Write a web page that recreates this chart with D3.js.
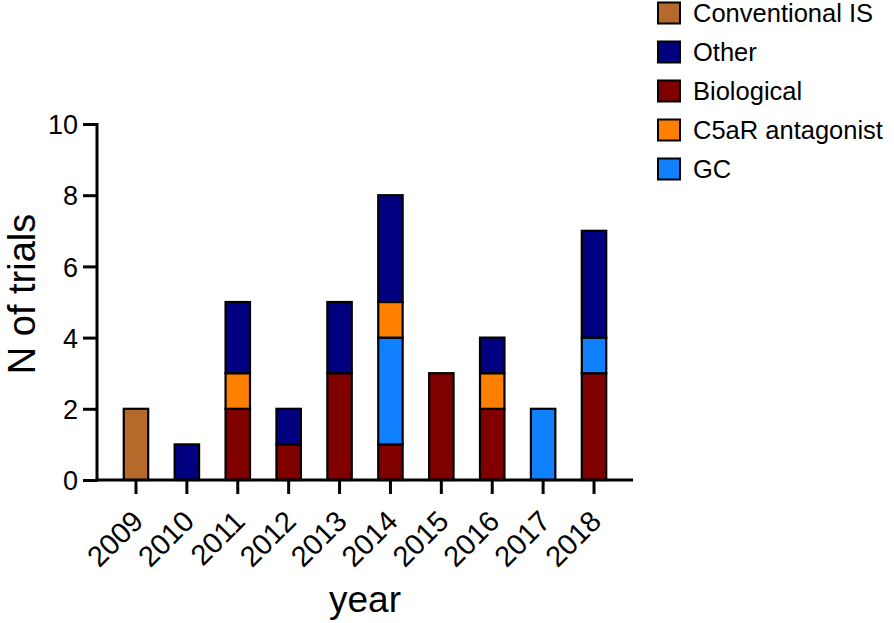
<!DOCTYPE html>
<html><head><meta charset="utf-8">
<script src="https://cdn.jsdelivr.net/npm/d3@7"></script>
<style>body{margin:0;background:#fff}svg{display:block}text{font-family:"Liberation Sans",Arial,sans-serif;fill:#000}</style>
</head><body><svg id="c" width="894" height="623"></svg>
<script>
const years = ["2009","2010","2011","2012","2013","2014","2015","2016","2017","2018"];
const conventionalIS = [2,0,0,0,0,0,0,0,0,0];
const biological = [0,0,2,1,3,1,3,2,0,3];
const gc = [0,0,0,0,0,3,0,0,2,1];
const c5ar = [0,0,1,0,0,1,0,1,0,0];
const other = [0,1,2,1,2,3,0,1,0,3];
const yTicks = [0,2,4,6,8,10];
const seriesNames = ["Conventional IS","Biological","GC","C5aR antagonist","Other"];
const seriesValues = [conventionalIS, biological, gc, c5ar, other];
const colors = {"Conventional IS":"#B5692B","Other":"#000080","Biological":"#800000","C5aR antagonist":"#FF8000","GC":"#1080FF"};
const legendOrder = ["Conventional IS","Other","Biological","C5aR antagonist","GC"];

const svg = d3.select("#c");
const x0 = 97, x1 = 633, yTop = 124, yBot = 480;
const x = d3.scaleBand().domain(years).range([x0, x1]).paddingInner(0.52).paddingOuter(0.526);
const y = d3.scaleLinear().domain([0,10]).range([yBot, yTop]);

const table = years.map((yr,i)=>{const o={year:yr}; seriesNames.forEach((s,j)=>o[s]=seriesValues[j][i]); return o;});
const stack = d3.stack().keys(seriesNames)(table);

svg.append("g").selectAll("g").data(stack).join("g")
  .attr("fill", d=>colors[d.key])
  .selectAll("rect").data(d=>d.filter(p=>p[1]-p[0]>0)).join("rect")
  .attr("x", d=>x(d.data.year)).attr("width", x.bandwidth())
  .attr("y", d=>y(d[1])).attr("height", d=>y(d[0])-y(d[1]))
  .attr("stroke","#000").attr("stroke-width",2.2);

// y axis
const ya = svg.append("g").attr("transform",`translate(${x0},0)`)
  .call(d3.axisLeft(y).tickValues(yTicks).tickSize(14).tickPadding(5).tickSizeOuter(0));
ya.select(".domain").attr("stroke","#000").attr("stroke-width",3).attr("d",`M0,${yBot+1.5}V${yTop-1}`);
ya.selectAll(".tick line").attr("stroke","#000").attr("stroke-width",3);
ya.selectAll(".tick text").attr("font-size",27).attr("font-family","Liberation Sans, Arial, sans-serif").attr("dy","0.36em");

// x axis
const xa = svg.append("g").attr("transform",`translate(0,${yBot})`)
  .call(d3.axisBottom(x).tickSize(14).tickSizeOuter(0));
xa.select(".domain").attr("stroke","#000").attr("stroke-width",3).attr("d",`M${x0-1.5},0H${x1}`);
xa.selectAll(".tick line").attr("stroke","#000").attr("stroke-width",3);
xa.selectAll(".tick text").attr("font-size",29).attr("font-family","Liberation Sans, Arial, sans-serif")
  .attr("text-anchor","end").attr("dy",null).attr("y",0)
  .attr("transform","translate(9,43) rotate(-45)");

// titles
svg.append("text").attr("x",365).attr("y",612).attr("text-anchor","middle").attr("font-size",37).text("year");
svg.append("text").attr("transform","translate(35,294) rotate(-90)").attr("text-anchor","middle").attr("font-size",38).text("N of trials");

// legend
const lg = svg.append("g").selectAll("g").data(legendOrder).join("g")
  .attr("transform",(d,i)=>`translate(658,${13+i*39})`);
lg.append("rect").attr("x",0).attr("y",-10.5).attr("width",22).attr("height",21)
  .attr("fill",d=>colors[d]).attr("stroke","#000").attr("stroke-width",2);
lg.append("text").attr("x",35).attr("y",0).attr("dy","0.36em").attr("font-size",25.5).text(d=>d);
</script></body></html>
